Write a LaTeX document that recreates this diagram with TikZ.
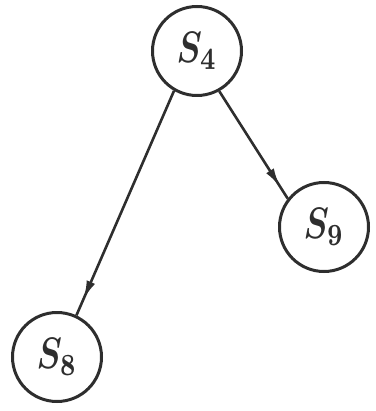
\documentclass[tikz,border=0pt]{standalone}
\usetikzlibrary{arrows.meta,decorations.markings}
\definecolor{ink}{HTML}{2E2E2E}
\tikzset{
  state/.style={circle,draw=ink,line width=3pt,minimum size=89pt,inner sep=0pt,text=ink},
  edge/.style={draw=ink,line width=2.6pt},
  midarrow/.style={postaction={decorate},decoration={markings,
    mark=at position #1 with {\arrow[ink]{Latex[length=19pt,width=9pt]}}}}
}
\newcommand{\lbl}[1]{\scalebox{3.4}[4.4]{\boldmath$S_{#1}$}}
\begin{document}
\begin{tikzpicture}[x=1pt,y=-1pt]
\useasboundingbox (0,0) rectangle (375,411);
\node[state] (s4) at (197,51) {\lbl{4}};
\node[state] (s9) at (324,227) {\lbl{9}};
\node[state] (s8) at (57,357) {\lbl{8}};
\draw[edge,midarrow=0.93] (s4.-120) -- (s8.65);
\draw[edge,midarrow=0.89] (s4.-61) -- (s9.142);
\end{tikzpicture}
\end{document}
